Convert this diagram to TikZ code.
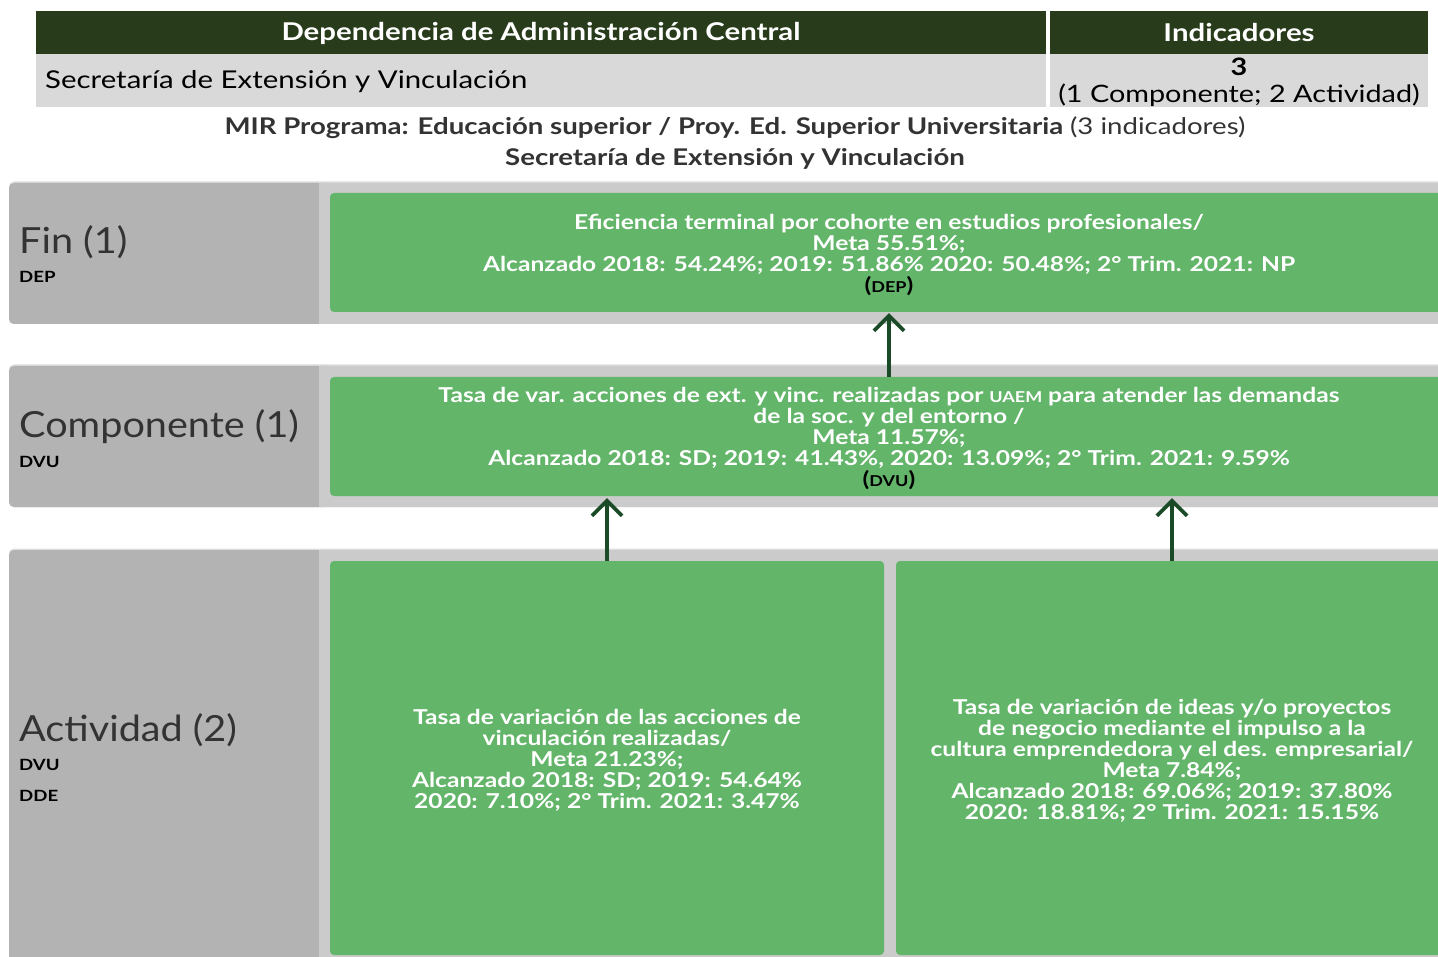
\documentclass[tikz,border=0pt]{standalone}
\usepackage{fontspec}
\setmainfont{Lato}
\newfontfamily\fw{Lato}[FakeStretch=1.2]
\newfontfamily\fm{Lato}[FakeStretch=1.1]
\usetikzlibrary{arrows.meta,calc}
\definecolor{hdr}{HTML}{283C1B}
\definecolor{rowgray}{HTML}{D9D9D9}
\definecolor{bandgray}{HTML}{CBCBCB}
\definecolor{bandedge}{HTML}{DDDDDD}
\definecolor{panelgray}{HTML}{B3B3B3}
\definecolor{boxgreen}{HTML}{63B56A}
\definecolor{arrowgreen}{HTML}{1B4A26}
\definecolor{txtdark}{HTML}{333333}
\newcommand{\smcp}[1]{{\fontsize{15}{15}\selectfont #1}}
\begin{document}
\begin{tikzpicture}[x=1pt,y=-1pt,
  gbox/.style={fill=boxgreen, rounded corners=4pt, inner sep=0pt},
  gtext/.style={text=white, align=center, inner sep=0pt,
    font=\fw\bfseries\fontsize{20.5}{21}\selectfont},
  lvl/.style={anchor=west, inner sep=0pt, text=txtdark, font=\fm\fontsize{36}{36}\selectfont},
  tag/.style={anchor=west, inner sep=0pt, text=black, font=\fw\bfseries\fontsize{15.5}{15.5}\selectfont},
  arr/.style={draw=arrowgreen, line width=3.7pt, -{Straight Barb[length=15pt,width=30pt,line width=3.7pt]}}
]
\useasboundingbox (0,0) rectangle (1438,957);
\clip (0,0) rectangle (1438,957);
\fill[white] (0,0) rectangle (1438,957);
% header table
\fill[hdr] (36,11) rectangle (1046,54);
\fill[hdr] (1050,11) rectangle (1428,54);
\fill[rowgray] (36,54) rectangle (1046,107);
\fill[rowgray] (1050,54) rectangle (1428,107);
\node[text=white, font=\fw\bfseries\fontsize{24.5}{24.5}\selectfont] (hdep) at (541,33.5) {Dependencia de Administración Central};
\node[text=white, font=\fw\bfseries\fontsize{24.5}{24.5}\selectfont] (hind) at (1239,32.5) {Indicadores};
\node[anchor=west, inner sep=0pt, text=black, font=\fw\fontsize{24.5}{24.5}\selectfont] (dep) at (45,82) {Secretaría de Extensión y Vinculación};
\node[align=center, inner sep=0pt, text=black, font=\fw\fontsize{24}{27}\selectfont] (ind) at (1239,82) {\textbf{3}\\(1 Componente; 2 Actividad)};
% titles
\node[text=txtdark, font=\fw\fontsize{23}{23}\selectfont] (t1) at (735,128) {\textbf{MIR Programa: Educación superior / Proy. Ed. Superior Universitaria} (3 indicadores)};
\node[text=txtdark, font=\fw\bfseries\fontsize{23}{23}\selectfont] (t2) at (735,158.5) {Secretaría de Extensión y Vinculación};
% bands
\foreach \ya/\yb in {183/324, 366/507, 550/990}{
  \fill[bandedge, rounded corners=5pt] (9,\ya-1.5) rectangle (1460,\yb);
  \fill[bandgray, rounded corners=5pt] (9,\ya) rectangle (1460,\yb);
  \fill[panelgray, rounded corners=5pt] (9,\ya) rectangle (330,\yb);
  \fill[bandgray] (319,\ya) rectangle (335,\yb);
}
% level labels
\node[lvl] (lfin) at (19,242.5) {Fin (1)};
\node[tag] (tfin) at (19,277) {DEP};
\node[lvl] (lcomp) at (19,426.5) {Componente (1)};
\node[tag] (tcomp) at (19,462) {DVU};
\node[lvl] (lact) at (19,730.5) {Actividad (2)};
\node[tag] (tact1) at (19,765) {DVU};
\node[tag] (tact2) at (19,796) {DDE};
% green boxes
\node[gbox, minimum width=1118, minimum height=119] (fin) at (889,252.5) {};
\node[gbox, minimum width=1118, minimum height=119] (comp) at (889,436.5) {};
\node[gbox, minimum width=554, minimum height=394] (act1) at (607,758) {};
\node[gbox, minimum width=552, minimum height=394] (act2) at (1172,758) {};
\node[gtext] (finT) at ([yshift=-2.5pt]fin.center)
  {Eficiencia terminal por cohorte en estudios profesionales/\\
   Meta 55.51\%;\\
   Alcanzado 2018: 54.24\%; 2019: 51.86\% 2020: 50.48\%; 2° Trim. 2021: NP\\
   \textcolor{black}{(\smcp{DEP})}};
\node[gtext] (compT) at ([yshift=-2.5pt]comp.center)
  {Tasa de var. acciones de ext. y vinc. realizadas por \smcp{UAEM} para atender las demandas\\
   de la soc. y del entorno /\\
   Meta 11.57\%;\\
   Alcanzado 2018: SD; 2019: 41.43\%, 2020: 13.09\%; 2° Trim. 2021: 9.59\%\\
   \textcolor{black}{(\smcp{DVU})}};
\node[gtext] (act1T) at ([yshift=-2.5pt]act1.center)
  {Tasa de variación de las acciones de\\
   vinculación realizadas/\\
   Meta 21.23\%;\\
   Alcanzado 2018: SD; 2019: 54.64\%\\
   2020: 7.10\%; 2° Trim. 2021: 3.47\%};
\node[gtext] (act2T) at ([yshift=-2.5pt]act2.center)
  {Tasa de variación de ideas y/o proyectos\\
   de negocio mediante el impulso a la\\
   cultura emprendedora y el des. empresarial/\\
   Meta 7.84\%;\\
   Alcanzado 2018: 69.06\%; 2019: 37.80\%\\
   2020: 18.81\%; 2° Trim. 2021: 15.15\%};
% arrows
\draw[arr] (comp.north) -- ([yshift=-1pt]fin.south);
\draw[arr] (act1.north) -- ([yshift=-2pt]act1.north |- comp.south);
\draw[arr] (act2.north) -- ([yshift=-2pt]act2.north |- comp.south);
\end{tikzpicture}
\end{document}
